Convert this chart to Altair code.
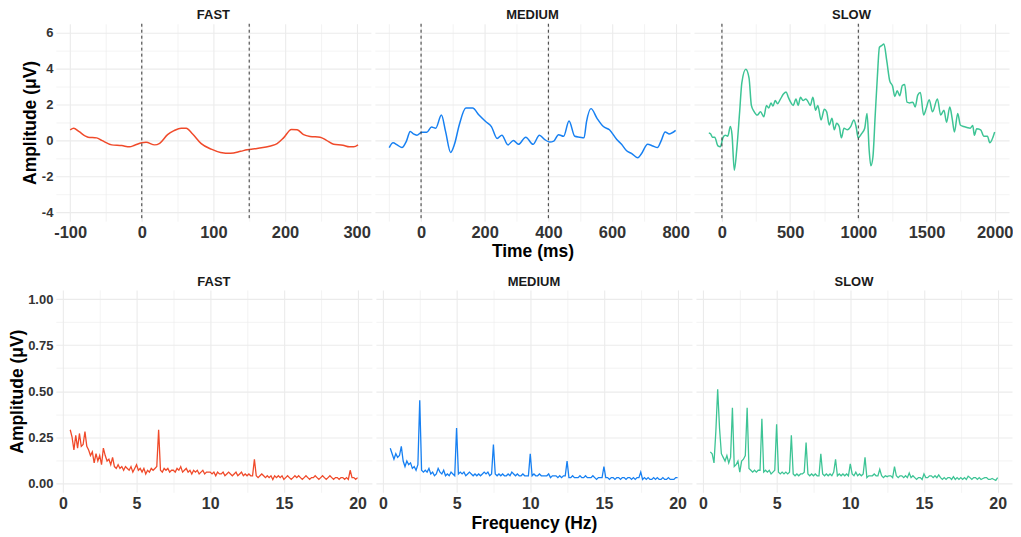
import altair as alt
import pandas as pd

FONT = "Liberation Sans"
GRID = "#EBEBEB"
COLORS = {"FAST": "#F04A2A", "MEDIUM": "#1780F2", "SLOW": "#3DC495"}

# ---------------- time-domain data (ms, µV) ----------------
fast_t = [-100, -95, -88, -75, -63, -56, -42, -28, -17, -10, 0, 6, 18, 25, 36, 45, 55, 62, 71, 83,
          97, 110, 124, 138, 147, 161, 180, 189, 198, 209, 217, 226, 235, 249, 258, 268, 281, 290, 296, 302]
fast_v = [0.59, 0.68, 0.50, 0.18, 0.14, 0.00, -0.25, -0.29, -0.36, -0.27, -0.13, -0.11, -0.25, -0.16, 0.32,
          0.54, 0.68, 0.67, 0.36, -0.18, -0.49, -0.67, -0.72, -0.61, -0.52, -0.45, -0.31, -0.18, 0.14, 0.61,
          0.59, 0.32, 0.22, 0.18, 0.00, -0.22, -0.27, -0.36, -0.36, -0.25]

medium_t = [-100, -88, -75, -60, -46, -34, -24, -13, 2, 18, 33, 46, 64, 77, 93, 105, 120, 141, 162, 182,
            203, 221, 239, 254, 273, 290, 306, 329, 352, 372, 388, 404, 417, 432, 448, 465, 483, 499, 512,
            520, 534, 553, 573, 592, 615, 630, 646, 661, 681, 692, 712, 728, 743, 754, 767, 779, 800]
medium_v = [-0.40, -0.13, -0.25, -0.40, -0.04, 0.50, 0.36, 0.29, 0.45, 0.45, 0.74, 0.68, 1.41, 0.50, -0.67,
            -0.22, 0.86, 1.80, 1.80, 1.41, 1.05, 0.77, 0.11, 0.29, -0.25, 0.00, -0.22, 0.18, -0.22, 0.29,
            0.05, -0.09, -0.04, 0.32, 0.23, 1.08, 0.23, 0.18, 0.14, 1.05, 1.77, 1.23, 0.77, 0.59, 0.05,
            -0.22, -0.58, -0.72, -0.97, -0.76, -0.22, -0.31, -0.40, -0.04, 0.47, 0.36, 0.56]

slow_t = [-96, -82, -70, -53, -29, -12, 7, 24, 43, 62, 74, 91, 110, 130, 146, 175, 199, 216, 235, 259,
          283, 307, 327, 343, 360, 374, 391, 408, 427, 451, 471, 487, 504, 523, 543, 559, 576, 595, 615,
          631, 648, 667, 687, 703, 727, 751, 768, 787, 807, 824, 841, 860, 876, 895, 920, 944, 968, 985,
          999, 1023, 1047, 1064, 1080, 1092, 1107, 1124, 1140, 1155, 1171, 1188, 1208, 1231, 1251, 1268,
          1285, 1304, 1323, 1340, 1357, 1376, 1400, 1417, 1436, 1455, 1479, 1496, 1520, 1544, 1580, 1604,
          1628, 1647, 1671, 1688, 1705, 1729, 1748, 1772, 1796, 1820, 1839, 1851, 1868, 1897, 1921, 1947,
          1964, 2000]
slow_v = [0.41, 0.36, 0.18, 0.18, -0.31, -0.36, 0.14, 0.29, 0.23, 0.77, 0.32, -1.66, -0.40, 1.59, 3.21,
          3.96, 3.47, 1.95, 1.62, 1.41, 1.59, 1.32, 1.95, 1.80, 2.09, 1.91, 2.22, 2.04, 2.27, 2.58, 2.70,
          2.40, 2.13, 1.95, 2.31, 1.95, 2.40, 2.22, 2.31, 2.16, 1.95, 2.40, 1.68, 1.95, 1.14, 1.73, 1.59,
          0.86, 1.23, 0.59, 0.95, 0.77, 0.14, 0.68, 0.59, 0.77, 1.14, 0.72, 0.14, 0.36, 0.68, 1.50, -0.58,
          -1.42, -0.94, 1.41, 3.57, 5.19, 5.28, 5.37, 4.47, 3.30, 3.03, 2.45, 2.76, 2.49, 3.06, 3.12, 2.13,
          2.09, 2.13, 1.86, 2.52, 2.67, 1.41, 1.73, 2.27, 1.59, 2.31, 1.41, 1.68, 1.01, 1.86, 1.23, 0.47,
          1.50, 0.86, 0.77, 0.72, 0.68, 0.83, 0.29, 0.65, 0.59, 0.23, 0.23, -0.13, 0.47]

event_fast = [0, 150]
event_medium = [0, 400]
event_slow = [0, 1000]

# ---------------- spectra (0.5 Hz .. 20 Hz, step 0.125 Hz) ----------------
freq_start = 0.5
freq_step = 0.125

fast_amp = [0.29, 0.25, 0.18, 0.26,
            0.19, 0.27, 0.20, 0.21, 0.28, 0.20, 0.18, 0.15,
            0.17, 0.11, 0.16, 0.12, 0.15, 0.10, 0.19, 0.15,
            0.12, 0.13, 0.10, 0.14, 0.09, 0.08, 0.10, 0.08,
            0.09, 0.07, 0.09, 0.08, 0.07, 0.09, 0.06, 0.08,
            0.10, 0.07, 0.08, 0.06, 0.08, 0.05, 0.07, 0.06,
            0.08, 0.07, 0.08, 0.09, 0.29, 0.07, 0.06, 0.08,
            0.07, 0.08, 0.06, 0.07, 0.07, 0.06, 0.08, 0.07,
            0.09, 0.06, 0.07, 0.08, 0.06, 0.07, 0.05, 0.07,
            0.06, 0.07, 0.05, 0.06, 0.07, 0.05, 0.06, 0.06,
            0.06, 0.05, 0.06, 0.04, 0.06, 0.05, 0.05, 0.06,
            0.04, 0.05, 0.06, 0.05, 0.04, 0.05, 0.06, 0.04,
            0.05, 0.06, 0.04, 0.05, 0.04, 0.05, 0.04, 0.04,
            0.13, 0.04, 0.03, 0.04, 0.05, 0.04, 0.03, 0.04,
            0.03, 0.04, 0.02, 0.04, 0.03, 0.04, 0.03, 0.04,
            0.02, 0.03, 0.04, 0.03, 0.02, 0.03, 0.04, 0.03,
            0.04, 0.03, 0.02, 0.03, 0.04, 0.03, 0.02, 0.03,
            0.03, 0.04, 0.03, 0.02, 0.03, 0.04, 0.03, 0.02,
            0.03, 0.04, 0.03, 0.02, 0.03, 0.03, 0.02, 0.03,
            0.03, 0.02, 0.03, 0.02, 0.07, 0.03, 0.03, 0.02,
            0.03]

medium_amp = [0.19, 0.16, 0.13, 0.16,
              0.14, 0.15, 0.20, 0.12, 0.09, 0.12, 0.10, 0.11,
              0.08, 0.09, 0.07, 0.10, 0.45, 0.07, 0.06, 0.07,
              0.06, 0.08, 0.05, 0.06, 0.04, 0.05, 0.08, 0.06,
              0.05, 0.07, 0.04, 0.05, 0.04, 0.06, 0.05, 0.04,
              0.30, 0.05, 0.06, 0.05, 0.06, 0.04, 0.05, 0.06,
              0.05, 0.04, 0.05, 0.04, 0.05, 0.04, 0.05, 0.06,
              0.05, 0.06, 0.04, 0.05, 0.21, 0.05, 0.04, 0.05,
              0.04, 0.05, 0.04, 0.04, 0.05, 0.04, 0.06, 0.05,
              0.04, 0.05, 0.04, 0.04, 0.05, 0.04, 0.04, 0.04,
              0.16, 0.04, 0.05, 0.04, 0.04, 0.05, 0.04, 0.04,
              0.04, 0.04, 0.05, 0.03, 0.04, 0.04, 0.04, 0.03,
              0.04, 0.03, 0.04, 0.04, 0.12, 0.03, 0.03, 0.04,
              0.03, 0.03, 0.03, 0.04, 0.03, 0.03, 0.04, 0.03,
              0.03, 0.03, 0.04, 0.03, 0.02, 0.03, 0.03, 0.03,
              0.09, 0.03, 0.03, 0.02, 0.03, 0.03, 0.02, 0.03,
              0.03, 0.02, 0.03, 0.03, 0.02, 0.03, 0.03, 0.02,
              0.03, 0.02, 0.03, 0.03, 0.06, 0.02, 0.03, 0.02,
              0.03, 0.02, 0.02, 0.03, 0.02, 0.03, 0.02, 0.02,
              0.03, 0.02, 0.02, 0.03, 0.02, 0.02, 0.02, 0.03,
              0.03]

slow_amp = [0.17, 0.16, 0.11, 0.28,
            0.51, 0.30, 0.16, 0.14, 0.12, 0.15, 0.11, 0.14,
            0.41, 0.09, 0.10, 0.12, 0.06, 0.12, 0.13, 0.15,
            0.41, 0.08, 0.07, 0.06, 0.07, 0.06, 0.07, 0.07,
            0.35, 0.06, 0.07, 0.06, 0.07, 0.05, 0.06, 0.07,
            0.32, 0.06, 0.05, 0.06, 0.05, 0.06, 0.05, 0.06,
            0.26, 0.05, 0.04, 0.05, 0.04, 0.05, 0.05, 0.06,
            0.22, 0.05, 0.04, 0.05, 0.04, 0.05, 0.04, 0.04,
            0.16, 0.05, 0.04, 0.05, 0.04, 0.05, 0.04, 0.06,
            0.13, 0.04, 0.05, 0.04, 0.05, 0.04, 0.05, 0.04,
            0.105, 0.05, 0.04, 0.06, 0.04, 0.05, 0.04, 0.05,
            0.14, 0.03, 0.04, 0.04, 0.04, 0.05, 0.04, 0.04,
            0.075, 0.04, 0.03, 0.04, 0.035, 0.04, 0.04, 0.03,
            0.09, 0.04, 0.03, 0.04, 0.04, 0.03, 0.04, 0.03,
            0.055, 0.03, 0.04, 0.03, 0.02, 0.03, 0.03, 0.02,
            0.05, 0.03, 0.03, 0.04, 0.04, 0.03, 0.04, 0.03,
            0.045, 0.03, 0.02, 0.03, 0.02, 0.03, 0.03, 0.02,
            0.035, 0.02, 0.03, 0.02, 0.03, 0.02, 0.03, 0.02,
            0.038, 0.03, 0.02, 0.03, 0.03, 0.02, 0.03, 0.02,
            0.025, 0.03, 0.03, 0.02, 0.02, 0.025, 0.02, 0.015,
            0.03]

# ---------------- tick values ----------------
ticks_fast_t = [-100, -50, 0, 50, 100, 150, 200, 250, 300]
ticks_medium_t = [-100, 0, 100, 200, 300, 400, 500, 600, 700, 800]
ticks_slow_t = [0, 250, 500, 750, 1000, 1250, 1500, 1750, 2000]
ticks_amp_t = [-4, -3, -2, -1, 0, 1, 2, 3, 4, 5, 6]
ticks_freq = [0, 2.5, 5, 7.5, 10, 12.5, 15, 17.5, 20]
ticks_amp_f = [0, 0.125, 0.25, 0.375, 0.5, 0.625, 0.75, 0.875, 1.0]

PW_TOP, PH_TOP = 316, 198
PW_BOT, PH_BOT = 317, 203


def grid_axis(values, major_test, label_expr, title=None, labels=True, size=16.5, **kw):
    opts = dict(
        values=values,
        title=title,
        labels=labels,
        labelExpr=f"({major_test}) ? {label_expr} : ''",
        labelOverlap=False,
        grid=True,
        gridColor=GRID,
        gridWidth={"condition": {"test": f"!({major_test})", "value": 0.6}, "value": 1.1},
        domain=False,
        ticks=False,
        labelFont=FONT,
        labelFontSize=size,
        labelFontWeight="bold",
        labelColor="#333333",
        labelPadding=3,
        titleFont=FONT,
        titleFontSize=17.5,
        titleFontWeight="bold",
        titleColor="#000000",
    )
    opts.update(kw)
    return alt.Axis(**opts)


def strip_title(name):
    return alt.TitleParams(name, font=FONT, fontSize=13, fontWeight="bold", color="#1A1A1A",
                           anchor="middle", offset=1)


def time_panel(name, t, v, events, domain, ticks, major, first, xtitle):
    df = pd.DataFrame({"t": t, "v": v})
    xs = alt.Scale(domain=domain, nice=False, zero=False)
    ys = alt.Scale(domain=[-4.5, 6.5], nice=False, zero=False)
    xax = grid_axis(ticks, major, "'' + datum.value", title=xtitle, titlePadding=2)
    yax = grid_axis(ticks_amp_t, "datum.value % 2 == 0", "'' + datum.value",
                    title="Amplitude (μV)" if first else None, labels=first, size=13,
                    titlePadding=2)
    line = alt.Chart(df).mark_line(color=COLORS[name], strokeWidth=1.5, interpolate="monotone").encode(
        x=alt.X("t:Q", scale=xs, axis=xax),
        y=alt.Y("v:Q", scale=ys, axis=yax),
    )
    ev = alt.Chart(pd.DataFrame({"t": events})).mark_rule(
        color="#333333", strokeWidth=1, strokeDash=[3, 3]
    ).encode(x=alt.X("t:Q", scale=xs, axis=xax))
    return alt.layer(line, ev).properties(width=PW_TOP, height=PH_TOP, title=strip_title(name))


def freq_panel(name, amp, first, xtitle):
    f = [freq_start + freq_step * i for i in range(len(amp))]
    df = pd.DataFrame({"f": f, "a": amp})
    xs = alt.Scale(domain=[-0.475, 20.975], nice=False, zero=False)
    ys = alt.Scale(domain=[-0.05, 1.05], nice=False, zero=False)
    xax = grid_axis(ticks_freq, "datum.value % 5 == 0", "'' + datum.value", title=xtitle,
                    titlePadding=3, labelPadding=3, size=16)
    yax = grid_axis(ticks_amp_f, "round(datum.value * 1000) % 250 == 0", "format(datum.value, '.2f')",
                    title="Amplitude (μV)" if first else None, labels=first, size=13,
                    titlePadding=1)
    line = alt.Chart(df).mark_line(color=COLORS[name], strokeWidth=1.3).encode(
        x=alt.X("f:Q", scale=xs, axis=xax),
        y=alt.Y("a:Q", scale=ys, axis=yax),
    )
    return line.properties(width=PW_BOT, height=PH_BOT, title=strip_title(name))


top = alt.hconcat(
    time_panel("FAST", fast_t, fast_v, event_fast, [-120, 320], ticks_fast_t, "datum.value % 100 == 0", True, None),
    time_panel("MEDIUM", medium_t, medium_v, event_medium, [-145, 845], ticks_medium_t, "datum.value % 200 == 0", False, "Time (ms)"),
    time_panel("SLOW", slow_t, slow_v, event_slow, [-205, 2105], ticks_slow_t, "datum.value % 500 == 0", False, None),
    spacing=4,
)
bottom = alt.hconcat(
    freq_panel("FAST", fast_amp, True, None),
    freq_panel("MEDIUM", medium_amp, False, "Frequency (Hz)"),
    freq_panel("SLOW", slow_amp, False, None),
    spacing=4,
)

chart = alt.vconcat(top, bottom, spacing=16).properties(
    padding={"left": 0, "top": 0, "right": 0, "bottom": 0},
    background="white",
).configure_view(stroke=None)

chart.save("out.html", embed_options={"renderer": "svg", "actions": False})
